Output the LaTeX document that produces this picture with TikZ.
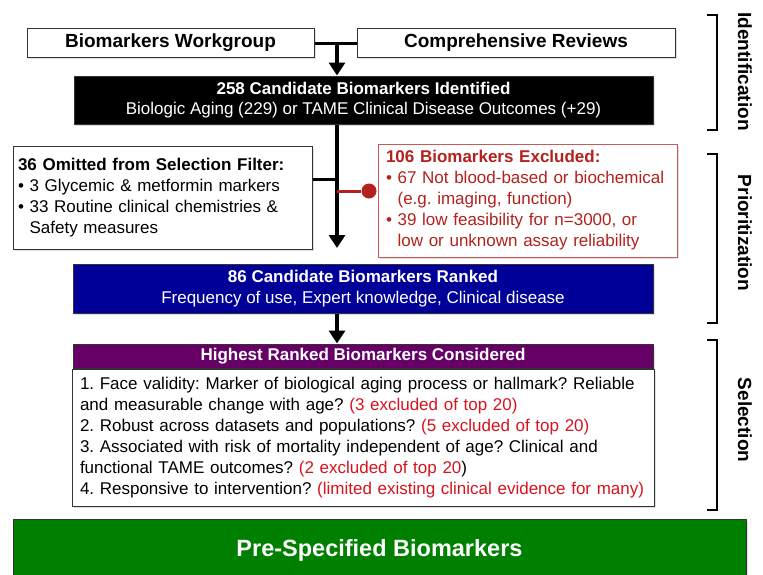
\documentclass[tikz,border=0pt]{standalone}
\usepackage{fontspec}
\setmainfont{Liberation Sans}
\usepackage{xcolor}
\usetikzlibrary{arrows.meta,positioning,shadows}
\frenchspacing
\definecolor{ex-red}{RGB}{178,34,30}
\definecolor{ex-border}{RGB}{200,90,90}
\definecolor{note-red}{RGB}{215,20,30}
\definecolor{rank-blue}{RGB}{0,0,153}
\definecolor{top-purple}{RGB}{102,0,102}
\definecolor{final-green}{RGB}{0,128,0}
\tikzset{
    soft-shadow/.style = {drop shadow={opacity=0.25, shadow xshift=1.5pt, shadow yshift=-1.5pt}},
    source-box/.style = {draw=black!80, fill=white, line width=1pt, rectangle, inner sep=0pt, soft-shadow, font=\fontsize{19}{22}\selectfont\bfseries},
    solid-box/.style = {draw=black!80, line width=1pt, rectangle, inner sep=0pt, soft-shadow, text=white, align=center, font=\fontsize{17}{20.5}\selectfont},
    list-box/.style = {draw=black!80, fill=white, line width=1pt, rectangle, inner ysep=0pt, soft-shadow, align=left, font=\fontsize{17}{21}\selectfont},
    flow-arrow/.style = {line width=4pt, -{Triangle[width=16pt, length=13pt]}},
    link-line/.style = {line width=3pt},
    red-line/.style = {line width=3pt, draw=ex-red},
    red-dot/.style = {circle, fill=ex-red, minimum size=15pt, inner sep=0pt},
    phase-bracket/.style = {line width=2.2pt},
    phase-label/.style = {rotate=-90, font=\fontsize{19}{22}\selectfont\bfseries},
}
\begin{document}
\begin{tikzpicture}[x=1pt, y=-1pt]
\useasboundingbox (0,0) rectangle (763,574);
\node[source-box, minimum width=287pt, minimum height=29pt] (workgroup) at (170.5,43) {Biomarkers Workgroup};
\node[source-box, minimum width=318pt, minimum height=29pt] (reviews) at (516,43) {Comprehensive Reviews};
\node[solid-box, fill=black, minimum width=579pt, minimum height=48pt] (identified) at (363.5,100)
    {\textbf{258 Candidate Biomarkers Identified}\\Biologic Aging (229) or TAME Clinical Disease Outcomes (+29)};
\node[list-box, text width=289pt, inner xsep=5pt, minimum height=103pt] (omitted) at (162.5,197.5)
    {\textbf{36 Omitted from Selection Filter:}\\
    • 3 Glycemic \& metformin markers\\
    • 33 Routine clinical chemistries \&\\
    \phantom{• }Safety measures};
\node[list-box, draw=ex-border, text=ex-red, text width=283pt, inner xsep=8pt, minimum height=113pt] (excluded) at (527.5,200.5)
    {\textbf{106 Biomarkers Excluded:}\\
    • 67 Not blood-based or biochemical\\
    \phantom{• }(e.g. imaging, function)\\
    • 39 low feasibility for n=3000, or\\
    \phantom{• }low or unknown assay reliability};
\node[solid-box, fill=rank-blue, minimum width=580pt, minimum height=49pt] (ranked) at (363,288.5)
    {\textbf{86 Candidate Biomarkers Ranked}\\Frequency of use, Expert knowledge, Clinical disease};
\node[solid-box, fill=top-purple, minimum width=580pt, minimum height=24pt, font=\fontsize{17}{20}\selectfont\bfseries] (highest) at (363,356)
    {Highest Ranked Biomarkers Considered};
\node[list-box, text width=566pt, inner xsep=8pt, minimum height=137pt, below=0pt of highest] (criteria)
    {1. Face validity: Marker of biological aging process or hallmark? Reliable\\
    and measurable change with age? \textcolor{note-red}{(3 excluded of top 20)}\\
    2. Robust across datasets and populations? \textcolor{note-red}{(5 excluded of top 20)}\\
    3. Associated with risk of mortality independent of age? Clinical and\\
    functional TAME outcomes? \textcolor{note-red}{(2 excluded of top 20})\\
    4. Responsive to intervention? \textcolor{note-red}{(limited existing clinical evidence for many)}};
\node[solid-box, fill=final-green, minimum width=733pt, minimum height=62pt, font=\fontsize{23.5}{26}\selectfont\bfseries] (prespecified) at (379.5,550)
    {Pre-Specified Biomarkers};
\coordinate (merge) at (337,43);
\coordinate (filter-end) at (337,248);
\coordinate (omit-joint) at (337,179);
\coordinate (excl-joint) at (337,191);
\node[red-dot] (excl-dot) at (369,191) {};
\draw[link-line] (workgroup.east) -- (reviews.west);
\draw[flow-arrow] (merge) -- (merge |- identified.north);
\draw[flow-arrow] (merge |- identified.south) -- (filter-end);
\draw[link-line] (omit-joint -| omitted.east) -- (omit-joint);
\draw[red-line] (excl-joint) -- (excl-dot);
\draw[flow-arrow] (merge |- ranked.south) -- (merge |- highest.north);
\draw[phase-bracket] (707,15) -- (717,15) -- (717,130) -- (707,130);
\draw[phase-bracket] (707,154) -- (717,154) -- (717,323) -- (707,323);
\draw[phase-bracket] (707,340) -- (717,340) -- (717,510) -- (707,510);
\node[phase-label] (identification) at (745,71.5) {Identification};
\node[phase-label] (prioritization) at (745,233) {Prioritization};
\node[phase-label] (selection) at (745,420) {Selection};
\end{tikzpicture}
\end{document}
